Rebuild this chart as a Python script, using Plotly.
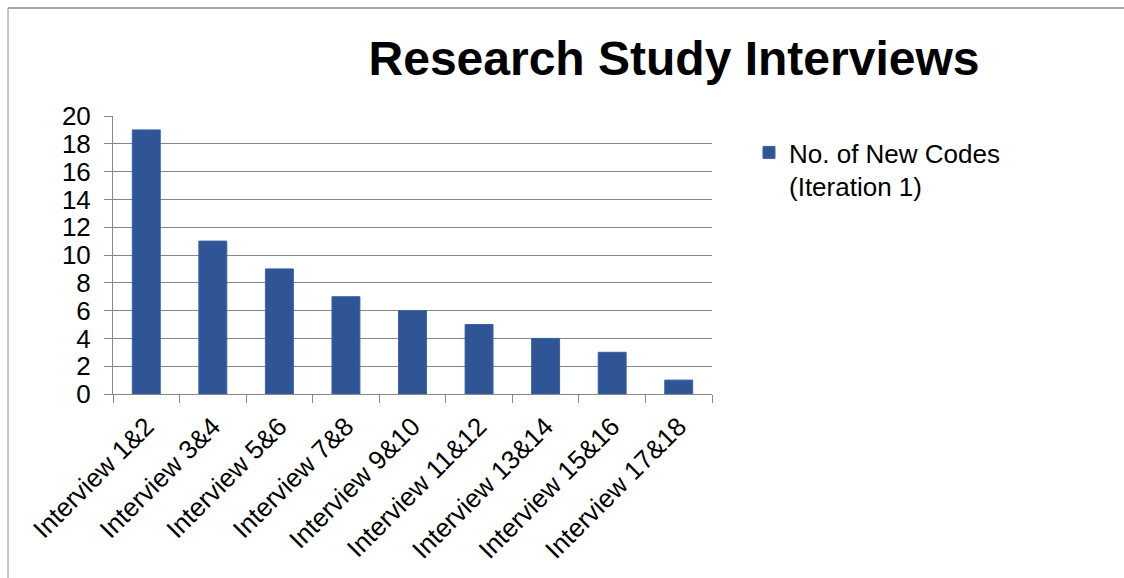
import plotly.graph_objects as go

categories = ["Interview 1&2", "Interview 3&4", "Interview 5&6", "Interview 7&8",
              "Interview 9&10", "Interview 11&12", "Interview 13&14", "Interview 15&16",
              "Interview 17&18"]
new_codes = [19, 11, 9, 7, 6, 5, 4, 3, 1]
series_name = "No. of New Codes<br>(Iteration 1)"
y_ticks = [0, 2, 4, 6, 8, 10, 12, 14, 16, 18, 20]

W, H = 1124, 578
L, R, T, B = 113, 412, 116, 184
pw = W - L - R
ph = H - T - B

FONT = "Liberation Sans, Arial, sans-serif"
GRID = "#888888"

fig = go.Figure()
fig.add_trace(go.Bar(
    x=categories, y=new_codes, name=series_name,
    marker=dict(color="#2F5597", line=dict(color="#3A62A8", width=1)),
    showlegend=True,
))

def px_x(p):
    return (p - L) / pw

def px_y(p):
    return (H - B - p) / ph

fig.update_layout(
    width=W, height=H,
    margin=dict(l=L, r=R, t=T, b=B),
    paper_bgcolor="white", plot_bgcolor="white",
    font=dict(family=FONT, color="black", size=26),
    bargap=0.58,
    title=dict(text="<b>Research Study Interviews</b>", x=674 / W, xanchor="center",
               y=1 - 58 / H, yanchor="middle",
               font=dict(family=FONT, size=48, color="black")),
    xaxis=dict(
        type="category", tickangle=-45, ticks="outside", ticklen=8, tickcolor=GRID,
        tickson="boundaries", showline=True, linecolor=GRID, linewidth=1,
        showgrid=False, tickfont=dict(size=26), ticklabelstandoff=6,
    ),
    yaxis=dict(
        range=[0, 20], tickvals=y_ticks, ticks="outside", ticklen=8, tickcolor=GRID,
        showline=True, linecolor=GRID, linewidth=1, showgrid=True, gridcolor=GRID,
        gridwidth=1, zeroline=False, tickfont=dict(size=26), ticklabelstandoff=8,
    ),
    legend=dict(x=px_x(749), y=px_y(129), xanchor="left", yanchor="top",
                font=dict(size=26), bgcolor="rgba(0,0,0,0)", traceorder="normal",
                valign="top"),
    shapes=[
        dict(type="line", xref="paper", yref="paper", x0=px_x(8), x1=px_x(8),
             y0=px_y(8), y1=px_y(H + 5), line=dict(color="#8a8a8a", width=1)),
        dict(type="line", xref="paper", yref="paper", x0=px_x(8), x1=px_x(W + 5),
             y0=px_y(8), y1=px_y(8), line=dict(color="#8a8a8a", width=1.5)),
    ],
)

fig.write_html("out.html")
